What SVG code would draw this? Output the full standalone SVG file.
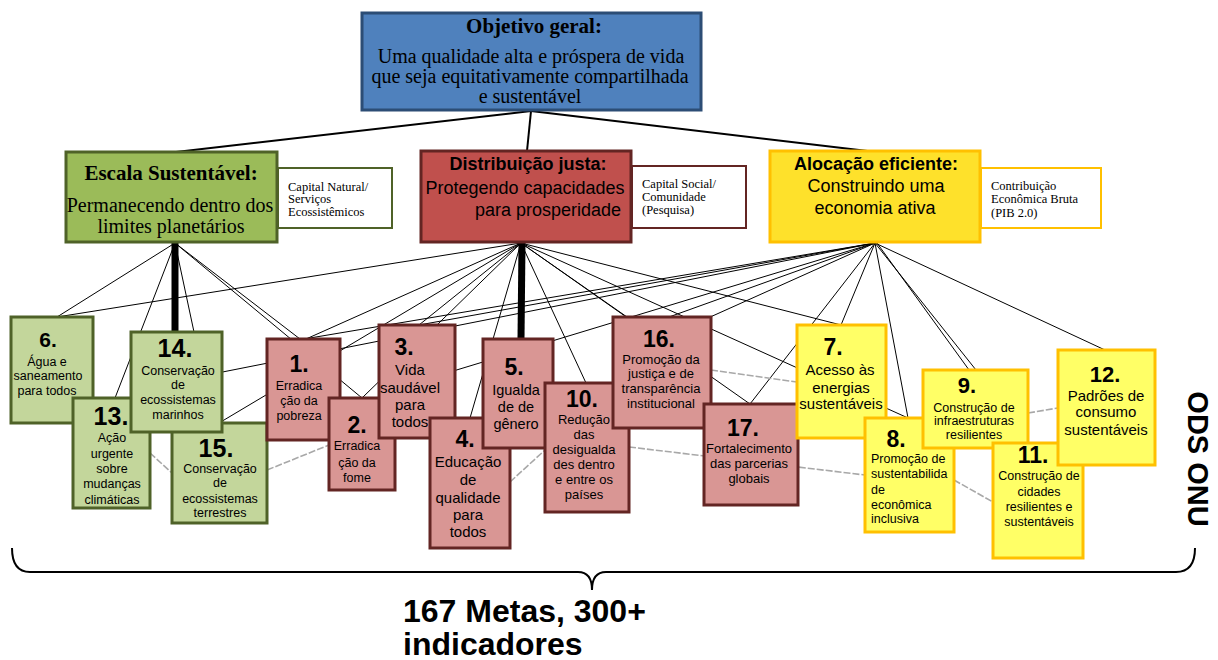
<svg xmlns="http://www.w3.org/2000/svg" width="1218" height="660" viewBox="0 0 1218 660">
<style>
.ln{stroke:#000;stroke-width:1;fill:none}
.top{stroke:#000;stroke-width:2;fill:none}
.thick{stroke:#000;stroke-width:7;fill:none}
.gl{stroke:#a8a8a8;stroke-width:1.6;stroke-dasharray:7 2;fill:none}
.g rect{fill:#c3d69b;stroke:#4f6228;stroke-width:3}
.r rect{fill:#d99694;stroke:#632523;stroke-width:3}
.y rect{fill:#ffff66;stroke:#ffc000;stroke-width:3}
.num{font-family:"Liberation Sans",Arial,sans-serif;font-weight:bold;font-size:23px;text-anchor:middle;fill:#000}
.t{font-family:"Liberation Sans",Arial,sans-serif;font-size:12.5px;text-anchor:middle;fill:#000}
.t15{font-family:"Liberation Sans",Arial,sans-serif;font-size:15px;text-anchor:middle;fill:#000}
.t13{font-family:"Liberation Sans",Arial,sans-serif;font-size:13px;text-anchor:middle;fill:#000}
.serifT{font-family:"Liberation Serif","Times New Roman",serif;font-weight:bold;font-size:21px;text-anchor:middle;fill:#000}
.serif{font-family:"Liberation Serif","Times New Roman",serif;font-size:20px;text-anchor:middle;fill:#000}
.sansT{font-family:"Liberation Sans",Arial,sans-serif;font-weight:bold;font-size:18px;text-anchor:middle;fill:#000}
.sans{font-family:"Liberation Sans",Arial,sans-serif;font-size:18px;text-anchor:middle;fill:#000}
.note{font-family:"Liberation Serif","Times New Roman",serif;font-size:12.5px;fill:#000}
.wb{fill:#fff;stroke-width:2}
</style>

<g id="connectors">
  <line class="top" x1="531" y1="111" x2="176" y2="152"/>
  <line class="top" x1="531" y1="111" x2="527" y2="151"/>
  <line class="top" x1="531" y1="111" x2="876" y2="152"/>
  <line class="ln" x1="175" y1="243" x2="57" y2="317"/>
  <line class="ln" x1="175" y1="243" x2="115" y2="398"/>
  <line class="ln" x1="175" y1="243" x2="194" y2="332"/>
  <line class="ln" x1="175" y1="243" x2="300" y2="339"/>
  <line class="ln" x1="175" y1="243" x2="362" y2="398"/>
  <line class="thick" x1="175" y1="243" x2="175" y2="332"/>
  <line class="ln" x1="521" y1="243" x2="57" y2="317"/>
  <line class="ln" x1="521" y1="243" x2="306" y2="339"/>
  <line class="ln" x1="521" y1="243" x2="219" y2="423"/>
  <line class="ln" x1="521" y1="243" x2="362" y2="398"/>
  <line class="ln" x1="521" y1="243" x2="419" y2="325"/>
  <line class="ln" x1="521" y1="243" x2="470" y2="418"/>
  <line class="ln" x1="521" y1="243" x2="586" y2="383"/>
  <line class="ln" x1="521" y1="243" x2="627" y2="317"/>
  <line class="ln" x1="521" y1="243" x2="750" y2="404"/>
  <line class="ln" x1="521" y1="243" x2="841" y2="325"/>
  <line class="ln" x1="521" y1="243" x2="908" y2="418"/>
  <line class="thick" x1="522" y1="243" x2="521" y2="339"/>
  <line class="ln" x1="875" y1="243" x2="304" y2="339"/>
  <line class="ln" x1="875" y1="243" x2="419" y2="325"/>
  <line class="ln" x1="875" y1="243" x2="177" y2="381"/>
  <line class="ln" x1="875" y1="243" x2="417" y2="382"/>
  <line class="ln" x1="875" y1="243" x2="669" y2="317"/>
  <line class="ln" x1="875" y1="243" x2="708" y2="318"/>
  <line class="ln" x1="875" y1="243" x2="750" y2="404"/>
  <line class="ln" x1="875" y1="243" x2="841" y2="325"/>
  <line class="ln" x1="875" y1="243" x2="908" y2="418"/>
  <line class="ln" x1="875" y1="243" x2="976" y2="370"/>
  <line class="ln" x1="877" y1="243" x2="1022" y2="443"/>
  <line class="ln" x1="875" y1="243" x2="1105" y2="350"/>
  <line class="gl" x1="150" y1="453" x2="172" y2="473"/>
  <line class="gl" x1="267" y1="470" x2="329" y2="445"/>
  <line class="gl" x1="510" y1="482" x2="545" y2="450"/>
  <line class="gl" x1="711" y1="370" x2="797" y2="382"/>
  <line class="gl" x1="629" y1="447" x2="865" y2="475"/>
  <line class="gl" x1="954" y1="480" x2="993" y2="502"/>
  <line class="gl" x1="1028" y1="413" x2="1058" y2="408"/>
</g>

<g id="objetivo-geral">
  <rect x="362" y="13" width="339" height="97" fill="#4f81bd" stroke="#2c4d75" stroke-width="3"/>
  <text class="serifT" x="534" y="33">Objetivo geral:</text>
  <text class="serif" x="531" y="63">Uma qualidade alta e próspera de vida</text>
  <text class="serif" x="530" y="83">que seja equitativamente compartilhada</text>
  <text class="serif" x="530" y="103">e sustentável</text>
</g>

<g id="escala-sustentavel">
  <rect x="66" y="152" width="211" height="90" fill="#9bbb59" stroke="#4f6228" stroke-width="3"/>
  <text class="serifT" x="171" y="180">Escala Sustentável:</text>
  <text class="serif" x="170" y="212">Permanecendo dentro dos</text>
  <text class="serif" x="171" y="233">limites planetários</text>
  <rect class="wb" x="278" y="168" width="114" height="60" stroke="#4f6228"/>
  <text class="note" x="288" y="191">Capital Natural/</text>
  <text class="note" x="288" y="203">Serviços</text>
  <text class="note" x="288" y="216">Ecossistêmicos</text>
</g>

<g id="distribuicao-justa">
  <rect x="421" y="151" width="210" height="91" fill="#c0504d" stroke="#632523" stroke-width="3"/>
  <text class="sansT" x="528" y="170">Distribuição justa:</text>
  <text class="sans" x="525" y="194">Protegendo capacidades</text>
  <text class="sans" x="621" y="216" style="text-anchor:end">para prosperidade</text>
  <rect class="wb" x="632" y="166" width="114" height="62" stroke="#632523"/>
  <text class="note" x="642" y="188">Capital Social/</text>
  <text class="note" x="642" y="201">Comunidade</text>
  <text class="note" x="642" y="214">(Pesquisa)</text>
</g>

<g id="alocacao-eficiente">
  <rect x="770" y="151" width="210" height="91" fill="#fee12b" stroke="#ffc000" stroke-width="3"/>
  <text class="sansT" x="876" y="170">Alocação eficiente:</text>
  <text class="sans" x="876" y="192">Construindo uma</text>
  <text class="sans" x="875" y="214">economia ativa</text>
  <rect class="wb" x="981" y="168" width="120" height="60" stroke="#ffc000"/>
  <text class="note" x="991" y="190">Contribuição</text>
  <text class="note" x="991" y="203">Econômica Bruta</text>
  <text class="note" x="991" y="217">(PIB 2.0)</text>
</g>

<g id="ods6" class="g">
  <rect x="11" y="317" width="82" height="106"/>
  <text class="num" x="48" y="347" style="font-size:21px">6.</text>
  <text class="t" x="47" y="366">Água e</text>
  <text class="t" x="48" y="380">saneamento</text>
  <text class="t" x="47" y="395">para todos</text>
</g>
<g id="ods13" class="g">
  <rect x="73" y="398" width="77" height="110"/>
  <text class="num" x="111" y="425" style="font-size:25px">13.</text>
  <text class="t" x="112" y="442">Ação</text>
  <text class="t" x="112" y="458">urgente</text>
  <text class="t" x="112" y="473">sobre</text>
  <text class="t" x="112" y="488">mudanças</text>
  <text class="t" x="112" y="504">climáticas</text>
</g>
<g id="ods15" class="g">
  <rect x="172" y="423" width="95" height="100"/>
  <text class="num" x="216" y="457" style="font-size:25px">15.</text>
  <text class="t" x="220" y="473">Conservação</text>
  <text class="t" x="220" y="487">de</text>
  <text class="t" x="220" y="503">ecossistemas</text>
  <text class="t" x="220" y="517">terrestres</text>
</g>
<g id="ods14" class="g">
  <rect x="131" y="332" width="91" height="100"/>
  <text class="num" x="175" y="357" style="font-size:25px">14.</text>
  <text class="t" x="178" y="375">Conservação</text>
  <text class="t" x="178" y="389">de</text>
  <text class="t" x="178" y="404">ecossistemas</text>
  <text class="t" x="178" y="419">marinhos</text>
</g>

<g id="ods1" class="r">
  <rect x="267" y="339" width="73" height="101"/>
  <text class="num" x="299" y="372">1.</text>
  <text class="t" x="299" y="390">Erradica</text>
  <text class="t" x="299" y="405">ção da</text>
  <text class="t" x="299" y="420">pobreza</text>
</g>
<g id="ods2" class="r">
  <rect x="329" y="398" width="66" height="92"/>
  <text class="num" x="357" y="433">2.</text>
  <text class="t" x="357" y="450">Erradica</text>
  <text class="t" x="357" y="467">ção da</text>
  <text class="t" x="357" y="482">fome</text>
</g>
<g id="ods3" class="r">
  <rect x="379" y="325" width="76" height="113"/>
  <text class="num" x="404" y="355">3.</text>
  <text class="t15" x="410" y="375">Vida</text>
  <text class="t15" x="410" y="393">saudável</text>
  <text class="t15" x="410" y="410">para</text>
  <text class="t15" x="410" y="427">todos</text>
</g>
<g id="ods4" class="r">
  <rect x="430" y="418" width="80" height="130"/>
  <text class="num" x="465" y="447">4.</text>
  <text class="t15" x="468" y="467">Educação</text>
  <text class="t15" x="468" y="485">de</text>
  <text class="t15" x="468" y="503">qualidade</text>
  <text class="t15" x="468" y="520">para</text>
  <text class="t15" x="468" y="537">todos</text>
</g>
<g id="ods5" class="r">
  <rect x="483" y="339" width="70" height="109"/>
  <text class="num" x="514" y="375">5.</text>
  <text class="t15" x="516" y="395" style="font-size:14.5px">Igualda</text>
  <text class="t15" x="516" y="412" style="font-size:14.5px">de de</text>
  <text class="t15" x="516" y="429" style="font-size:14.5px">gênero</text>
</g>
<g id="ods10" class="r">
  <rect x="545" y="383" width="84" height="129"/>
  <text class="num" x="582" y="407" style="font-size:23px">10.</text>
  <text class="t13" x="584" y="424">Redução</text>
  <text class="t13" x="584" y="439">das</text>
  <text class="t13" x="584" y="454">desigualda</text>
  <text class="t13" x="584" y="469">des dentro</text>
  <text class="t13" x="584" y="484">e entre os</text>
  <text class="t13" x="584" y="499">países</text>
</g>
<g id="ods16" class="r">
  <rect x="613" y="317" width="98" height="111"/>
  <text class="num" x="659" y="347">16.</text>
  <text class="t13" x="661" y="364">Promoção da</text>
  <text class="t13" x="661" y="378">justiça e de</text>
  <text class="t13" x="661" y="393">transparência</text>
  <text class="t13" x="661" y="408">institucional</text>
</g>
<g id="ods17" class="r">
  <rect x="704" y="404" width="94" height="101"/>
  <text class="num" x="743" y="436">17.</text>
  <text class="t13" x="749" y="453">Fortalecimento</text>
  <text class="t13" x="749" y="468">das parcerias</text>
  <text class="t13" x="749" y="483">globais</text>
</g>

<g id="ods7" class="y">
  <rect x="797" y="325" width="89" height="113"/>
  <text class="num" x="833" y="355">7.</text>
  <text class="t15" x="840" y="375">Acesso às</text>
  <text class="t15" x="841" y="393">energias</text>
  <text class="t15" x="841" y="409">sustentáveis</text>
</g>
<g id="ods8" class="y">
  <rect x="865" y="418" width="89" height="114"/>
  <text class="num" x="896" y="447">8.</text>
  <text class="t" x="871" y="463" style="text-anchor:start">Promoção de</text>
  <text class="t" x="871" y="478" style="text-anchor:start">sustentabilida</text>
  <text class="t" x="871" y="494" style="text-anchor:start">de</text>
  <text class="t" x="871" y="509" style="text-anchor:start">econômica</text>
  <text class="t" x="871" y="523" style="text-anchor:start">inclusiva</text>
</g>
<g id="ods9" class="y">
  <rect x="923" y="370" width="105" height="78"/>
  <text class="num" x="967" y="393" style="font-size:22px">9.</text>
  <text class="t" x="974" y="412">Construção de</text>
  <text class="t" x="974" y="425">infraestruturas</text>
  <text class="t" x="974" y="439">resilientes</text>
</g>
<g id="ods11" class="y">
  <rect x="993" y="443" width="90" height="115"/>
  <text class="num" x="1033" y="463">11.</text>
  <text class="t" x="1039" y="480">Construção de</text>
  <text class="t" x="1039" y="496">cidades</text>
  <text class="t" x="1039" y="511">resilientes e</text>
  <text class="t" x="1039" y="526">sustentáveis</text>
</g>
<g id="ods12" class="y">
  <rect x="1058" y="350" width="97" height="115"/>
  <text class="num" x="1105" y="382" style="font-size:22px">12.</text>
  <text class="t15" x="1106" y="401">Padrões de</text>
  <text class="t15" x="1106" y="417">consumo</text>
  <text class="t15" x="1106" y="435">sustentáveis</text>
</g>

<g id="ods-onu-label">
  <text transform="translate(1188,459) rotate(90)" x="0" y="0" style="font-family:'Liberation Sans',Arial,sans-serif;font-weight:bold;font-size:29px;text-anchor:middle">ODS ONU</text>
</g>

<g id="metas">
  <path d="M12,548 Q12,572 30,572 L578,572 Q592,572 592,590 Q592,572 606,572 L1176,572 Q1195,572 1195,548" fill="none" stroke="#000" stroke-width="2"/>
  <text x="403" y="622" style="font-family:'Liberation Sans',Arial,sans-serif;font-weight:bold;font-size:32px">167 Metas, 300+</text>
  <text x="403" y="655" style="font-family:'Liberation Sans',Arial,sans-serif;font-weight:bold;font-size:32px">indicadores</text>
</g>
</svg>
